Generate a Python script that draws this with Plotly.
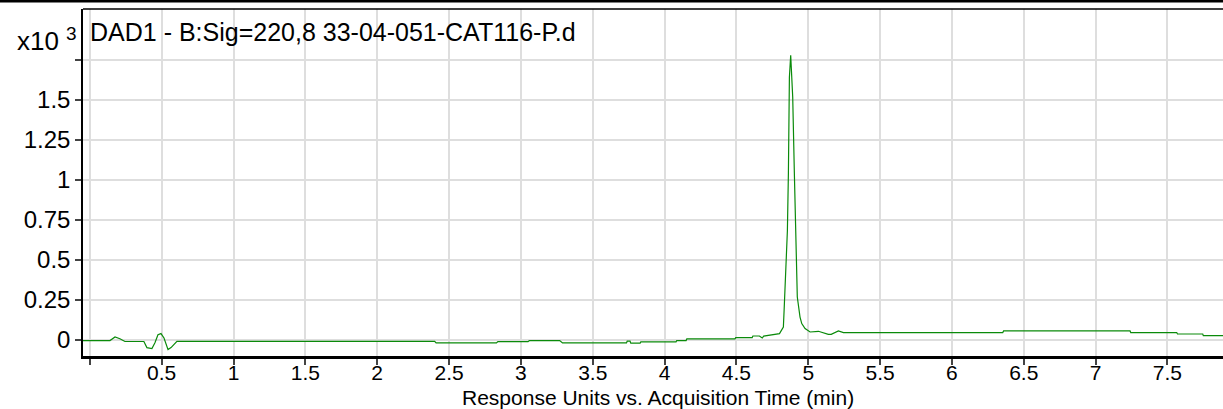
import plotly.graph_objects as go

# Chromatogram trace: acquisition time (min) and response (x10^3 units)
time_min = [
    -0.05, 0.14, 0.175, 0.209, 0.244, 0.376, 0.397, 0.432, 0.453, 0.474,
    0.495, 0.516, 0.544, 0.565, 0.606, 2.40, 2.41, 2.83, 2.84, 3.05,
    3.06, 3.27, 3.29, 3.735, 3.74, 3.76, 3.765, 3.83, 3.835, 4.08,
    4.085, 4.15, 4.155, 4.49, 4.495, 4.61, 4.615, 4.66, 4.68, 4.69,
    4.80, 4.815, 4.827, 4.832, 4.855, 4.862, 4.869, 4.878, 4.892, 4.903,
    4.915, 4.924, 4.943, 4.955, 4.978, 5.013, 5.071, 5.14, 5.16, 5.21,
    5.245, 6.354, 6.36, 7.24, 7.245, 7.565, 7.57, 7.746, 7.75, 7.90,
]
response_k = [
    -0.006, -0.006, 0.016, 0.005, -0.012, -0.012, -0.05, -0.056, -0.02, 0.03,
    0.0375, 0.01, -0.0625, -0.05, -0.011, -0.011, -0.021, -0.021, -0.0125, -0.0125,
    -0.006, -0.006, -0.021, -0.021, -0.010, -0.010, -0.022, -0.022, -0.014, -0.014,
    -0.006, -0.006, 0.004, 0.004, 0.0125, 0.0125, 0.0225, 0.0225, 0.010, 0.022,
    0.0375, 0.058, 0.079, 0.18, 0.68, 1.04, 1.64, 1.777, 1.516, 1.058,
    0.683, 0.266, 0.141, 0.10, 0.069, 0.0475, 0.052, 0.033, 0.033, 0.054,
    0.044, 0.044, 0.054, 0.054, 0.044, 0.044, 0.035, 0.035, 0.025, 0.025,
]

x_tick_vals = [0, 0.5, 1, 1.5, 2, 2.5, 3, 3.5, 4, 4.5, 5, 5.5, 6, 6.5, 7, 7.5]
x_tick_text = ["", "0.5", "1", "1.5", "2", "2.5", "3", "3.5", "4", "4.5",
               "5", "5.5", "6", "6.5", "7", "7.5"]
y_tick_vals = [0, 0.25, 0.5, 0.75, 1, 1.25, 1.5, 1.75]
y_tick_text = ["0", "0.25", "0.5", "0.75", "1", "1.25", "1.5", ""]

title_text = "DAD1 - B:Sig=220,8 33-04-051-CAT116-P.d"
x_title = "Response Units vs. Acquisition Time (min)"

FONT = "Liberation Sans, Arial, sans-serif"
W, H = 1223, 409
ML, MR, MT, MB = 83, 0, 9, 53
PW, PH = W - ML - MR, H - MT - MB

def px_x(p):
    return (p - ML) / PW

def px_y(p):
    return 1 - (p - MT) / PH

fig = go.Figure()
fig.add_trace(go.Scatter(
    x=time_min, y=response_k, mode="lines",
    line=dict(color="#0a8a0a", width=1.2),
    hoverinfo="skip", showlegend=False,
))

fig.update_layout(
    width=W, height=H,
    margin=dict(l=ML, r=MR, t=MT, b=MB),
    paper_bgcolor="white", plot_bgcolor="white",
    font=dict(family=FONT, size=24, color="black"),
    xaxis=dict(
        range=[-0.0478, 7.887],
        tickvals=x_tick_vals, ticktext=x_tick_text,
        ticks="outside", ticklen=6, tickwidth=1.5, tickcolor="#444",
        ticklabelstandoff=-10,
        showline=True, linecolor="black", linewidth=2.5,
        showgrid=True, gridcolor="#dedede", gridwidth=2,
        zeroline=False,
        tickfont=dict(family=FONT, size=21, color="black"),
    ),
    yaxis=dict(
        range=[-0.1025, 2.066],
        tickvals=y_tick_vals, ticktext=y_tick_text,
        ticks="outside", ticklen=6, tickwidth=1.5, tickcolor="#444",
        showline=True, linecolor="black", linewidth=1.5,
        showgrid=True, gridcolor="#dedede", gridwidth=2,
        zeroline=False,
        tickfont=dict(family=FONT, size=24, color="black"),
    ),
    shapes=[
        # header area above the grid
        dict(type="rect", xref="paper", yref="y", x0=0, x1=1, y0=1.783, y1=2.066,
             fillcolor="white", line=dict(width=0), layer="between"),
        # top border of plot area
        dict(type="line", xref="paper", yref="paper", x0=0, x1=1, y0=1, y1=1,
             line=dict(color="black", width=1.5)),
        # top band of page
        dict(type="rect", xref="paper", yref="paper",
             x0=px_x(0), x1=1, y0=px_y(2.5), y1=px_y(0),
             fillcolor="black", line=dict(width=0)),
    ],
    annotations=[
        dict(text=title_text, xref="paper", yref="paper",
             x=px_x(88), y=px_y(32), xanchor="left", yanchor="middle",
             showarrow=False, font=dict(family=FONT, size=25, color="black")),
        dict(text="x10", xref="paper", yref="paper",
             x=px_x(61), y=px_y(41), xanchor="right", yanchor="middle",
             showarrow=False, font=dict(family=FONT, size=26, color="black")),
        dict(text="3", xref="paper", yref="paper",
             x=px_x(64), y=px_y(33), xanchor="left", yanchor="middle",
             showarrow=False, font=dict(family=FONT, size=19, color="black")),
        dict(text=x_title, xref="paper", yref="paper",
             x=px_x(658), y=px_y(398), xanchor="center", yanchor="middle",
             showarrow=False, font=dict(family=FONT, size=21, color="black")),
    ],
)

fig.write_html("out.html", config={"displayModeBar": False},
               post_script="document.body.style.margin='0';")
